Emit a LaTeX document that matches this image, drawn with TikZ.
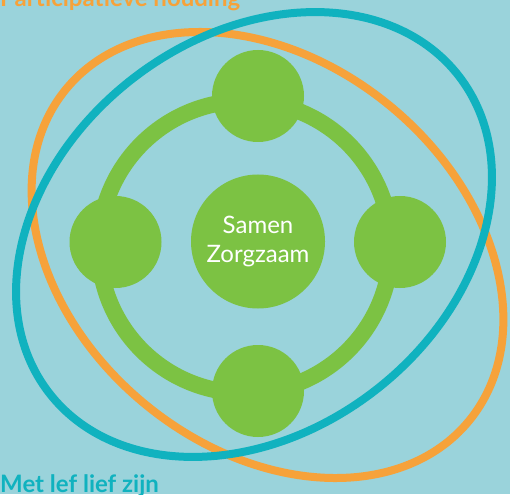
\documentclass[tikz,border=0pt]{standalone}
\usepackage{fontspec}
\setmainfont{Lato}
\definecolor{bgblue}{HTML}{9AD3DB}
\definecolor{orng}{HTML}{F6A23A}
\definecolor{teal2}{HTML}{10B2BF}
\definecolor{grn}{HTML}{7CC243}
\tikzset{
  dot/.style={circle,fill=grn,draw=none,minimum size=92pt,inner sep=0pt},
  hub/.style={circle,fill=grn,draw=none,minimum size=134pt,inner sep=0pt,text=white,font=\fontsize{24}{29.5}\selectfont,align=center},
  ttl/.style={anchor=base west,inner sep=0pt,font=\bfseries\fontsize{24}{28}\selectfont},
  loop/.style={line width=8pt}
}
\begin{document}
\begin{tikzpicture}[x=1pt,y=-1pt]
\fill[bgblue] (0,0) rectangle (510,494);
\useasboundingbox (0,0) rectangle (510,494);
% ring
\draw[grn,line width=16.5pt] (245,247) circle [radius=146pt];
% ellipses
\draw[loop,orng,rotate around={-39.5:(267.5,255)}] (267.5,255) ellipse [x radius=261pt,y radius=193pt];
\draw[loop,teal2,rotate around={37.65:(254,234.5)}] (254,234.5) ellipse [x radius=259pt,y radius=197.5pt];
% nodes
\node[dot] (top) at (258,96) {};
\node[dot] (left) at (115.5,242) {};
\node[dot] (right) at (400,242) {};
\node[dot] (bottom) at (258,391) {};
\node[hub] (hub) at (258,241.5) {Samen\\Zorgzaam};
% titles
\node[ttl,text=orng] (t1) at (0,7) {Participatieve houding};
\node[ttl,text=teal2] (t2) at (0,492) {Met lef lief zijn};
\end{tikzpicture}
\end{document}
